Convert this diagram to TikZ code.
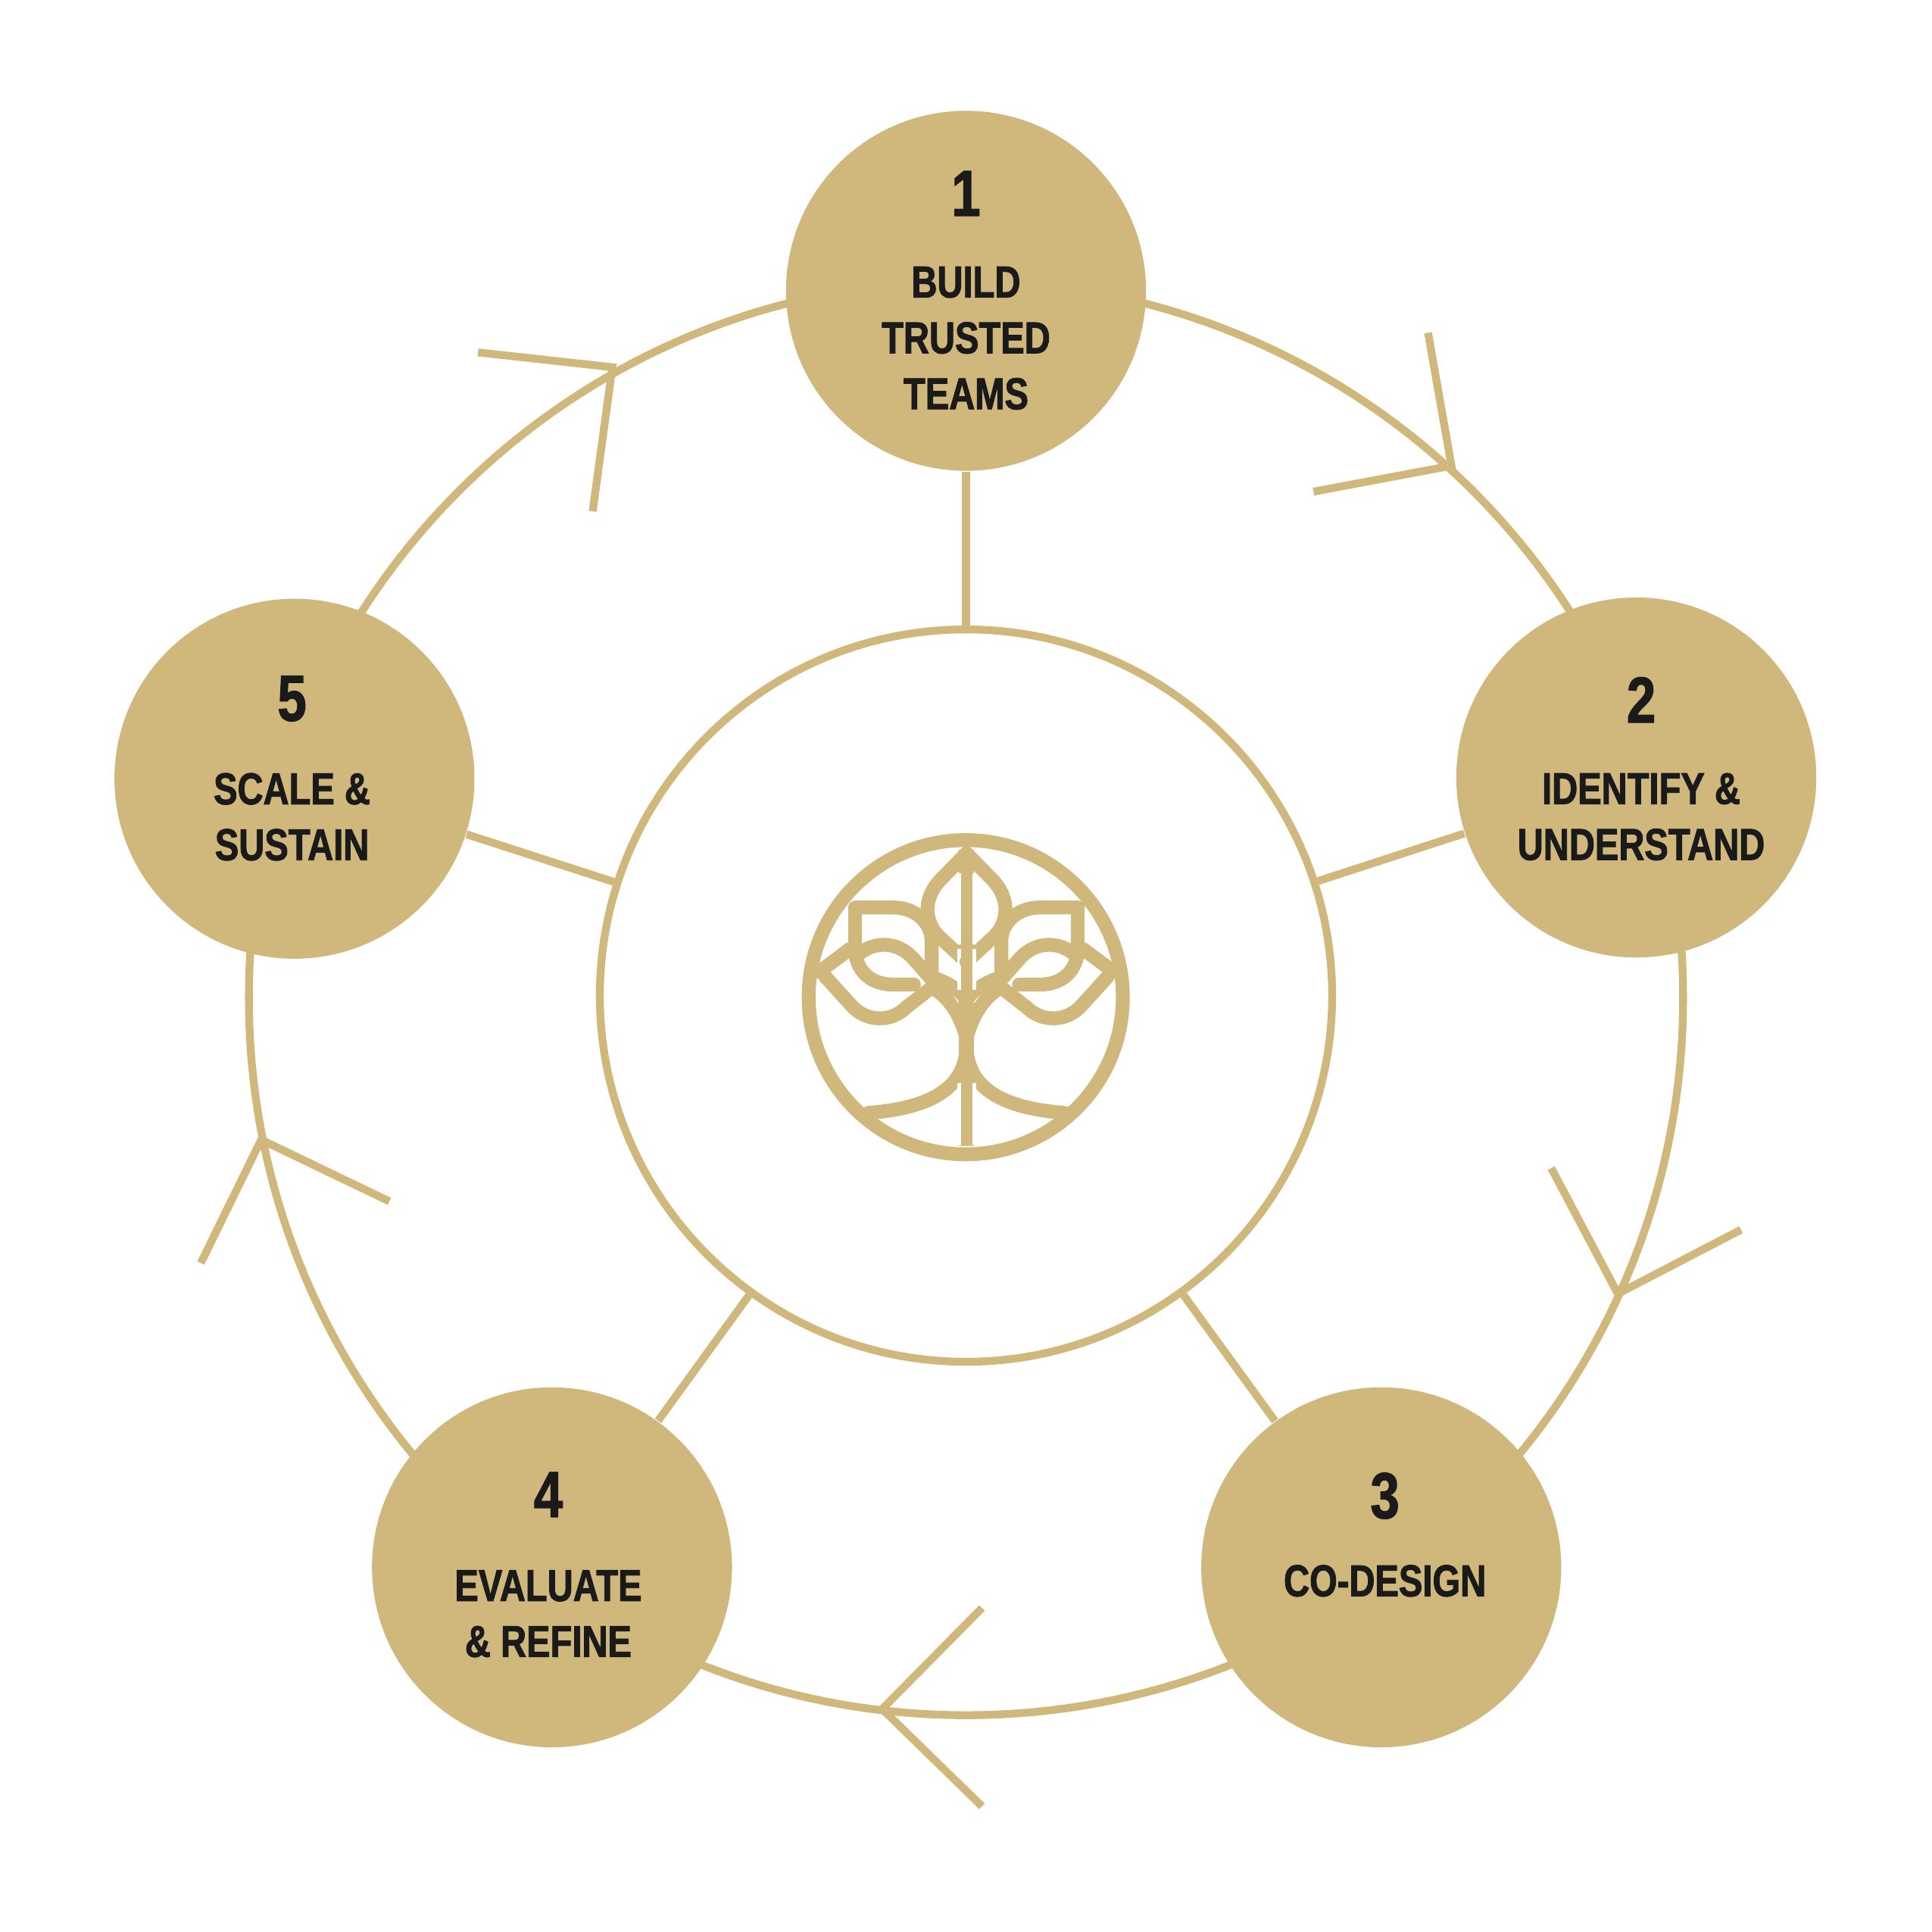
\documentclass[tikz,border=0pt]{standalone}
\usepackage{fontspec}
\newfontfamily\stepfont[FakeStretch=0.8,FakeBold=1.5]{Liberation Sans Bold}
\definecolor{gold}{HTML}{D0B77C}
\definecolor{ink}{HTML}{1A1A1A}
\begin{document}
\begin{tikzpicture}[x=0.01cm,y=-0.01cm,
  ring/.style={draw=gold,line width=1.8pt},
  stepc/.style={circle,fill=gold,minimum size=2.92cm,inner sep=0},
  num/.style={text=ink,font=\stepfont\fontsize{15}{15}\selectfont},
  lab/.style={text=ink,font=\stepfont\fontsize{10.3}{12.9}\selectfont,align=center},
  logo/.style={draw=gold,line width=3.2pt,line cap=round,line join=round}]
\useasboundingbox (0,0) rectangle (1568,1568);
\fill[white] (0,0) rectangle (1568,1568);
% outer cycle
\draw[ring] (784,810) circle[radius=582];
% arrowheads
\coordinate (t1) at (497,298); \draw[ring] (388,286) -- (t1) -- (481,415);
\coordinate (t2) at (1178,378); \draw[ring] (1159,270) -- (t2) -- (1066,399);
\coordinate (t3) at (1313,1050); \draw[ring] (1259,948) -- (t3) -- (1413,998);
\coordinate (t4) at (716,1387); \draw[ring] (797,1305) -- (t4) -- (797,1466);
\coordinate (t5) at (212,925); \draw[ring] (316,975) -- (t5) -- (163,1025);
% center
\node[circle,ring,minimum size=5.94cm,inner sep=0] (c) at (784,808) {};
\node[stepc] (n1) at (784,236) {};
\node[stepc] (n2) at (1328,631) {};
\node[stepc] (n3) at (1121,1272) {};
\node[stepc] (n4) at (448,1272) {};
\node[stepc] (n5) at (239,632) {};
\draw[ring] (n1) -- (c); \draw[ring] (n2) -- (c); \draw[ring] (n3) -- (c);
\draw[ring] (n4) -- (c); \draw[ring] (n5) -- (c);
% labels
\node[num] (l1n) at (784,157) {1};
\node[lab,anchor=north] (l1) at (784,204) {BUILD\\TRUSTED\\TEAMS};
\node[num] (l2n) at (1332,568) {2};
\node[lab,anchor=north] (l2) at (1332,615) {IDENTIFY \&\\UNDERSTAND};
\node[num] (l3n) at (1124,1214) {3};
\node[lab] (l3) at (1124,1283) {CO-DESIGN};
\node[num] (l4n) at (445,1213) {4};
\node[lab,anchor=north] (l4) at (445,1262) {EVALUATE\\\& REFINE};
\node[num] (l5n) at (237,567) {5};
\node[lab,anchor=north] (l5) at (237,615) {SCALE \&\\SUSTAIN};
% logo (zoom coordinates)
\begin{scope}[shift={(645.4,669.9)},scale=0.205]
\draw[logo] (675,680) circle[radius=622];
\draw[gold,line width=3.5pt] (678,95) -- (678,1270);
\foreach \s in {1,-1}{
\begin{scope}[shift={({(1-\s)*678},0)},xscale=\s]
\draw[logo] (95,580) -- (215,490);
\draw[logo] (240,520) .. controls (300,460) and (400,450) .. (470,530) -- (540,610);
\draw[logo] (240,520) .. controls (260,600) and (320,630) .. (390,630) -- (470,630);
\draw[logo] (120,600) -- (220,710) .. controls (280,780) and (380,780) .. (440,720) -- (555,630);
\draw[logo] (237,330) -- (237,480);
\draw[logo] (237,325) -- (390,325) .. controls (470,325) and (540,380) .. (540,460) -- (540,580);
\draw[logo] (678,110) -- (580,210) .. controls (500,290) and (510,390) .. (580,450) -- (678,540);
\draw[logo] (555,650) .. controls (630,700) and (660,780) .. (678,840);
\draw[logo] (678,880) .. controls (670,1050) and (520,1120) .. (290,1138);
\draw[logo] (540,600) .. controls (600,620) and (650,650) .. (678,690);
\draw[white,line width=0.9pt] (648,190) -- (648,470);
\draw[white,line width=0.9pt] (648,490) -- (648,650);
\draw[white,line width=0.9pt] (648,1020) -- (648,1265);
\end{scope}}
\end{scope}
\end{tikzpicture}
\end{document}
